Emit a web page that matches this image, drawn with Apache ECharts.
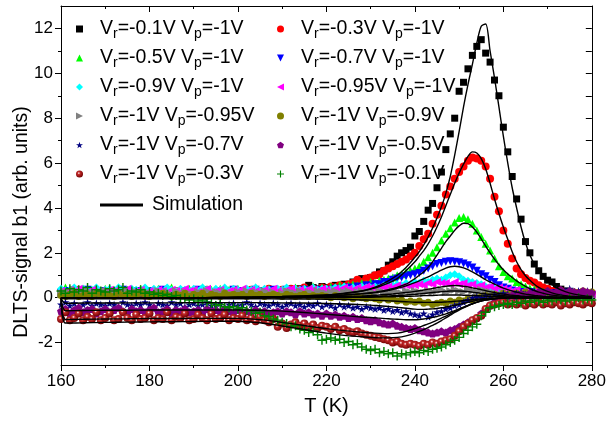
<!DOCTYPE html>
<html>
<head>
<meta charset="utf-8">
<script src="https://cdn.jsdelivr.net/npm/echarts@6/dist/echarts.min.js"></script>
<style>
html,body{margin:0;padding:0;background:#fff;}
#chart{width:609px;height:421px;}
</style>
</head>
<body>
<div id="chart"></div>
<script>
// measured temperatures (K)
var temps = [
	160,161,162,163,164,165,166,167,168,169,
	170,171,172,173,174,175,176,177,178,179,
	180,181,182,183,184,185,186,187,188,189,
	190,191,192,193,194,195,196,197,198,199,
	200,201,202,203,204,205,206,207,208,209,
	210,211,212,213,214,215,216,217,218,219,
	220,221,222,223,224,225,226,227,228,229,
	230,231,232,233,234,235,236,237,238,239,
	240,241,242,243,244,245,246,247,248,249,
	250,251,252,253,254,255,256,257,258,259,
	260,261,262,263,264,265,266,267,268,269,
	270,271,272,273,274,275,276,277,278,279,
	280];

var names = ['Vr=-0.1V Vp=-1V','Vr=-0.3V Vp=-1V','Vr=-0.5V Vp=-1V','Vr=-0.7V Vp=-1V',
	'Vr=-0.9V Vp=-1V','Vr=-0.95V Vp=-1V','Vr=-1V Vp=-0.95V','Vr=-1V Vp=-0.9V',
	'Vr=-1V Vp=-0.7V','Vr=-1V Vp=-0.5V','Vr=-1V Vp=-0.3V','Vr=-1V Vp=-0.1V'];

// DLTS signal b1, one value per temperature
var vr01 = [
	0.2,0.15,0.25,0.1,0.2,0.3,0.15,0.2,0.1,0.25,
	0.2,0.3,0.15,0.2,0.25,0.1,0.2,0.3,0.2,0.15,
	0.25,0.2,0.1,0.3,0.2,0.15,0.25,0.2,0.3,0.15,
	0.2,0.25,0.15,0.3,0.2,0.1,0.25,0.2,0.3,0.2,
	0.25,0.15,0.2,0.3,0.2,0.25,0.3,0.2,0.35,0.25,
	0.3,0.2,0.35,0.3,0.4,0.35,0.55,0.45,0.4,0.5,
	0.45,0.4,0.55,0.5,0.6,0.55,0.7,0.6,0.85,0.8,
	0.9,1.0,1.15,1.2,1.45,1.6,1.85,2.0,2.1,2.25,
	2.75,2.95,3.4,3.9,4.2,4.9,5.6,6.6,7.3,8.0,
	9.2,9.6,10.2,10.8,11.2,11.5,10.9,10.5,9.7,9.0,
	7.6,6.5,5.4,4.4,3.5,2.5,2.0,1.5,1.2,0.95,
	0.78,0.7,0.5,0.38,0.3,0.25,0.2,0.2,0.15,0.15,
	0.1];
var vr03 = [
	0.25,0.3,0.15,0.2,0.35,0.2,0.1,0.25,0.3,0.2,
	0.15,0.3,0.25,0.2,0.35,0.15,0.2,0.3,0.25,0.1,
	0.3,0.2,0.25,0.15,0.35,0.2,0.3,0.25,0.2,0.15,
	0.25,0.3,0.2,0.35,0.15,0.25,0.3,0.2,0.25,0.35,
	0.2,0.3,0.25,0.35,0.2,0.3,0.25,0.4,0.3,0.25,
	0.35,0.3,0.4,0.25,0.35,0.45,0.3,0.4,0.35,0.45,
	0.4,0.5,0.45,0.55,0.5,0.6,0.65,0.8,0.7,0.85,
	0.9,1.0,1.05,1.2,1.3,1.4,1.5,1.6,1.7,1.85,
	2.0,2.3,2.6,2.85,3.3,3.7,4.1,4.6,4.95,5.3,
	5.6,5.85,6.1,6.25,6.2,6.1,5.85,5.3,4.5,3.85,
	3.0,2.4,1.75,1.3,1.05,0.88,0.75,0.68,0.55,0.45,
	0.4,0.3,0.25,0.3,0.2,0.25,0.15,0.2,0.25,0.15,
	0.2];
var vr05 = [
	0.3,0.45,0.2,0.35,0.25,0.4,0.15,0.3,0.35,0.2,
	0.4,0.25,0.3,0.45,0.2,0.35,0.3,0.25,0.4,0.3,
	0.2,0.35,0.4,0.25,0.3,0.45,0.2,0.35,0.3,0.4,
	0.25,0.3,0.45,0.2,0.35,0.3,0.4,0.25,0.35,0.3,
	0.4,0.3,0.35,0.25,0.45,0.3,0.35,0.4,0.3,0.35,
	0.3,0.4,0.35,0.45,0.3,0.4,0.35,0.5,0.4,0.45,
	0.4,0.5,0.45,0.55,0.5,0.55,0.6,0.55,0.65,0.6,
	0.7,0.65,0.75,0.8,0.85,0.9,1.0,1.05,1.15,1.2,
	1.3,1.4,1.6,1.8,2.0,2.25,2.55,2.85,3.1,3.35,
	3.55,3.6,3.5,3.3,3.0,2.7,2.4,2.1,1.75,1.4,
	1.15,0.95,0.85,0.7,0.6,0.5,0.42,0.38,0.3,0.25,
	0.3,0.2,0.25,0.3,0.2,0.15,0.25,0.2,0.15,0.2,
	0.2];
var vr07 = [
	0.2,0.3,0.25,0.15,0.3,0.2,0.35,0.25,0.2,0.3,
	0.25,0.15,0.3,0.2,0.35,0.25,0.2,0.3,0.15,0.25,
	0.3,0.2,0.25,0.35,0.15,0.3,0.2,0.25,0.3,0.2,
	0.25,0.35,0.2,0.3,0.25,0.15,0.3,0.25,0.2,0.35,
	0.3,0.25,0.2,0.3,0.35,0.25,0.3,0.2,0.35,0.3,
	0.25,0.35,0.3,0.25,0.3,0.35,0.25,0.3,0.35,0.3,
	0.35,0.3,0.4,0.35,0.4,0.45,0.4,0.5,0.45,0.55,
	0.5,0.6,0.6,0.7,0.7,0.8,0.85,0.9,0.95,1.0,
	1.05,1.1,1.2,1.3,1.4,1.5,1.55,1.6,1.62,1.6,
	1.58,1.52,1.45,1.35,1.2,1.05,0.95,0.8,0.7,0.55,
	0.45,0.4,0.32,0.28,0.25,0.2,0.25,0.2,0.15,0.2,
	0.15,0.2,0.1,0.15,0.2,0.1,0.15,0.1,0.2,0.15,
	0.1];
var vr09 = [
	0.4,0.3,0.35,0.45,0.25,0.4,0.3,0.35,0.45,0.3,
	0.35,0.4,0.25,0.45,0.35,0.3,0.4,0.35,0.3,0.45,
	0.3,0.4,0.35,0.25,0.45,0.35,0.3,0.4,0.35,0.3,
	0.4,0.3,0.45,0.35,0.3,0.4,0.35,0.45,0.3,0.4,
	0.35,0.3,0.4,0.35,0.45,0.3,0.4,0.35,0.3,0.4,
	0.35,0.45,0.3,0.4,0.35,0.4,0.3,0.45,0.35,0.4,
	0.4,0.35,0.45,0.4,0.5,0.35,0.45,0.4,0.5,0.45,
	0.45,0.5,0.45,0.55,0.5,0.55,0.6,0.55,0.65,0.6,
	0.7,0.65,0.75,0.7,0.8,0.85,0.8,0.9,1.0,1.05,
	0.95,0.8,0.75,0.7,0.65,0.6,0.5,0.45,0.4,0.35,
	0.35,0.3,0.25,0.3,0.2,0.25,0.15,0.2,0.1,0.15,
	0.05,0.1,-0.1,0.05,0.1,0,0.1,0.05,0.1,0,
	0.1];
var vr095 = [
	0.3,0.2,0.35,0.25,0.4,0.3,0.2,0.35,0.25,0.3,
	0.25,0.35,0.3,0.2,0.3,0.4,0.25,0.3,0.35,0.2,
	0.3,0.25,0.35,0.3,0.2,0.35,0.3,0.25,0.4,0.3,
	0.35,0.25,0.3,0.4,0.25,0.3,0.35,0.2,0.3,0.35,
	0.3,0.4,0.25,0.35,0.3,0.25,0.35,0.3,0.4,0.3,
	0.25,0.35,0.4,0.3,0.35,0.3,0.4,0.35,0.3,0.4,
	0.35,0.3,0.4,0.35,0.45,0.4,0.35,0.45,0.4,0.5,
	0.45,0.4,0.5,0.45,0.5,0.45,0.55,0.5,0.55,0.5,
	0.55,0.6,0.55,0.65,0.6,0.7,0.65,0.65,0.6,0.7,
	0.6,0.65,0.55,0.6,0.5,0.55,0.45,0.5,0.4,0.45,
	0.4,0.35,0.3,0.35,0.25,0.3,0.2,0.25,0.2,0.15,
	0.2,0.15,0.2,0.1,0.15,0.2,0.1,0.15,0.2,0.1,
	0.15];
var vp095 = [
	0.15,0.25,0.2,0.35,0.15,0.25,0.3,0.2,0.15,0.25,
	0.3,0.2,0.15,0.25,0.2,0.3,0.15,0.25,0.2,0.3,
	0.2,0.15,0.3,0.2,0.25,0.15,0.3,0.2,0.25,0.2,
	0.15,0.25,0.2,0.3,0.15,0.25,0.2,0.3,0.2,0.15,
	0.25,0.2,0.3,0.15,0.25,0.2,0.3,0.2,0.25,0.15,
	0.2,0.3,0.25,0.2,0.3,0.15,0.25,0.2,0.3,0.25,
	0.2,0.25,0.3,0.2,0.25,0.3,0.2,0.25,0.3,0.2,
	0.25,0.2,0.3,0.25,0.2,0.3,0.25,0.2,0.3,0.25,
	0.3,0.25,0.2,0.3,0.25,0.3,0.35,0.25,0.3,0.35,
	0.3,0.25,0.35,0.3,0.25,0.35,0.3,0.25,0.2,0.15,
	0.2,0.1,0.15,0.05,0.1,0,0.1,0.05,-0.05,0.05,
	0.1,0,0.05,0.1,-0.05,0.05,0.1,0,0.05,0.1,
	0.05];
var vp09 = [
	0.1,0.05,0.15,0.2,0.05,0.1,0.15,0.05,0.2,0.1,
	0.15,0.1,0.05,0.2,0.1,0.15,0.05,0.1,0.2,0.15,
	0.05,0.15,0.1,0.2,0.1,0.05,0.15,0.1,0.2,0.05,
	0.15,0.1,0.2,0.05,0.15,0.1,0.05,0.2,0.1,0.15,
	0.1,0.15,0.05,0.2,0.1,0.15,0.05,0.1,0.15,0.1,
	0.05,0.15,0.1,0.05,0.1,0.15,0.05,0.1,0.05,0.1,
	0.05,0,0.1,0.05,0,0.05,-0.05,0.05,0,-0.05,
	0,-0.05,-0.1,0,-0.1,-0.05,-0.15,-0.1,-0.2,-0.15,
	-0.2,-0.15,-0.25,-0.2,-0.3,-0.25,-0.2,-0.25,-0.15,-0.2,
	-0.1,-0.15,-0.05,-0.1,0,0.05,0.1,0.05,0.15,0.1,
	0.2,0.15,0.1,0.2,0.15,0.25,0.1,0.2,0.15,0.2,
	0.25,0.15,0.2,0.3,0.15,0.2,0.25,0.15,0.3,0.2,
	0.25];
var vp07 = [
	-0.3,-0.2,-0.35,-0.25,-0.4,-0.3,-0.2,-0.35,-0.25,-0.3,
	-0.35,-0.25,-0.3,-0.4,-0.2,-0.3,-0.35,-0.25,-0.3,-0.2,
	-0.3,-0.4,-0.25,-0.3,-0.35,-0.2,-0.3,-0.25,-0.4,-0.3,
	-0.25,-0.35,-0.3,-0.2,-0.35,-0.3,-0.25,-0.4,-0.3,-0.25,
	-0.35,-0.3,-0.2,-0.3,-0.4,-0.25,-0.3,-0.35,-0.25,-0.3,
	-0.4,-0.3,-0.25,-0.35,-0.3,-0.4,-0.3,-0.35,-0.25,-0.4,
	-0.3,-0.35,-0.45,-0.3,-0.4,-0.35,-0.45,-0.4,-0.5,-0.4,
	-0.45,-0.5,-0.45,-0.55,-0.5,-0.6,-0.55,-0.65,-0.6,-0.7,
	-0.75,-0.8,-0.7,-0.85,-0.75,-0.65,-0.6,-0.5,-0.45,-0.35,
	-0.3,-0.2,-0.1,0,0.05,0,0.1,0.05,0.15,0.1,
	0.2,0.15,0.1,0.2,0.25,0.15,0.2,0.3,0.2,0.25,
	0.3,0.2,0.35,0.25,0.3,0.4,0.25,0.3,0.2,0.3,
	0.25];
var vp05 = [
	-0.6,-0.5,-0.7,-0.55,-0.45,-0.65,-0.55,-0.5,-0.7,-0.6,
	-0.5,-0.65,-0.55,-0.45,-0.6,-0.7,-0.5,-0.6,-0.55,-0.65,
	-0.55,-0.45,-0.65,-0.6,-0.5,-0.7,-0.55,-0.6,-0.5,-0.65,
	-0.6,-0.55,-0.7,-0.5,-0.6,-0.55,-0.65,-0.5,-0.6,-0.7,
	-0.55,-0.65,-0.6,-0.7,-0.55,-0.65,-0.6,-0.7,-0.65,-0.6,
	-0.7,-0.6,-0.65,-0.75,-0.6,-0.7,-0.65,-0.75,-0.7,-0.8,
	-0.7,-0.8,-0.75,-0.85,-0.8,-0.9,-0.85,-0.95,-0.9,-1.0,
	-1.05,-1.0,-1.1,-1.15,-1.2,-1.15,-1.25,-1.3,-1.35,-1.4,
	-1.35,-1.45,-1.5,-1.55,-1.6,-1.55,-1.5,-1.55,-1.45,-1.4,
	-1.3,-1.2,-1.1,-1.0,-0.9,-0.7,-0.5,-0.35,-0.2,-0.1,
	0,0.05,0.1,0.05,0.15,0.1,0.2,0.15,0.25,0.2,
	0.3,0.2,0.25,0.35,0.2,0.3,0.25,0.2,0.3,0.25,
	0.2];
var vp03 = [
	-0.95,-0.65,-1.0,-0.9,-0.7,-1.0,-0.85,-0.95,-0.65,-1.0,
	-0.9,-0.7,-1.0,-0.95,-0.65,-0.9,-1.0,-0.75,-0.95,-0.9,
	-0.7,-1.0,-0.9,-0.95,-0.65,-1.0,-0.85,-0.9,-0.7,-1.0,
	-0.95,-0.75,-0.9,-1.0,-0.7,-0.95,-0.9,-0.75,-1.0,-0.9,
	-0.95,-0.8,-1.0,-0.9,-1.05,-0.85,-1.0,-1.1,-0.95,-1.3,
	-1.15,-1.35,-1.2,-1.1,-1.25,-1.15,-1.3,-1.2,-1.35,-1.25,
	-1.3,-1.4,-1.3,-1.45,-1.4,-1.5,-1.55,-1.5,-1.6,-1.65,
	-1.7,-1.75,-1.8,-1.85,-1.9,-2.0,-1.95,-2.05,-2.1,-2.05,
	-2.1,-2.15,-2.05,-2.1,-2.0,-2.05,-1.95,-1.9,-1.85,-1.7,
	-1.5,-1.3,-1.15,-1.0,-0.9,-0.8,-0.5,-0.35,-0.3,-0.25,
	-0.2,-0.3,-0.25,-0.3,-0.2,-0.35,-0.25,-0.3,-0.2,-0.3,
	-0.25,-0.3,-0.2,-0.35,-0.25,-0.3,-0.2,-0.25,-0.3,-0.2,
	-0.25];
var vp01 = [
	0.3,0.2,0.4,0.25,0.35,0.3,0.45,0.2,0.35,0.3,
	0.25,0.4,0.3,0.35,0.45,0.2,0.3,0.25,0.35,0.2,
	0.25,0.15,0.2,0.1,0.15,0.05,0.1,-0.05,0,-0.1,
	-0.05,-0.15,-0.1,-0.2,-0.25,-0.35,-0.3,-0.4,-0.45,-0.4,
	-0.5,-0.45,-0.55,-0.6,-0.7,-0.65,-0.8,-0.85,-0.95,-1.0,
	-1.1,-1.15,-1.3,-1.25,-1.4,-1.45,-1.55,-1.5,-1.65,-1.9,
	-1.85,-1.8,-1.9,-1.85,-2.0,-1.95,-2.1,-2.05,-2.2,-2.3,
	-2.35,-2.3,-2.45,-2.4,-2.5,-2.45,-2.6,-2.5,-2.55,-2.45,
	-2.4,-2.45,-2.35,-2.4,-2.3,-2.25,-2.2,-2.1,-2.0,-1.9,
	-1.77,-1.6,-1.45,-1.3,-1.18,-0.8,-0.65,-0.45,-0.4,-0.35,
	-0.3,-0.25,-0.3,-0.2,-0.25,-0.15,-0.2,-0.1,-0.15,-0.2,
	-0.1,-0.15,-0.05,-0.1,-0.15,-0.05,-0.1,0,-0.1,-0.05,
	-0.1];
var measured = [vr01,vr03,vr05,vr07,vr09,vr095,vp095,vp09,vp07,vp05,vp03,vp01];

// simulation curves, sampled at simT
var simT = [160,161,165,170,175,180,185,190,195,200,
	205,210,215,220,224,228,230,232,234,236,
	238,240,241,242,243,244,245,246,247,248,
	249,250,251,252,253,254,255,256,257,258,
	259,260,261,262,263,264,265,266,267,268,
	269,270,272,274,276,278,280];
var simVr01 = [0,0,0,0,0,0,0,0,0.01,0.02,
	0.03,0.05,0.08,0.12,0.18,0.3,0.4,0.55,0.75,1.0,
	1.35,1.8,2.05,2.35,2.7,3.1,3.55,4.05,4.65,5.4,
	6.35,7.4,8.5,9.5,10.4,11.35,12.1,12.2,11.0,9.8,
	8.5,7.2,6.0,4.9,4.0,3.15,2.45,1.9,1.5,1.2,
	0.95,0.75,0.45,0.27,0.16,0.09,0.05];
var simVr03 = [0,0,0,0,0,0,0,0,0.01,0.02,
	0.03,0.05,0.08,0.12,0.2,0.3,0.38,0.5,0.65,0.85,
	1.2,1.6,1.85,2.1,2.4,2.75,3.15,3.6,4.1,4.6,
	5.1,5.55,5.95,6.3,6.5,6.45,6.2,5.75,5.1,4.4,
	3.75,3.15,2.6,2.05,1.6,1.25,0.98,0.78,0.6,0.46,
	0.36,0.28,0.16,0.09,0.05,0.03,0.02];
var simVr05 = [0,0,0,0,0,0,0,0,0.01,0.01,
	0.02,0.03,0.05,0.08,0.12,0.18,0.22,0.28,0.36,0.46,
	0.6,0.85,1.0,1.15,1.35,1.6,1.9,2.2,2.5,2.75,
	3.0,3.2,3.32,3.3,3.15,2.92,2.62,2.3,2.0,1.72,
	1.47,1.25,1.06,0.9,0.75,0.62,0.5,0.4,0.32,0.25,
	0.2,0.15,0.09,0.05,0.03,0.02,0.01];
var simVr07 = [0,0,0,0,0,0,0,0,0,0.01,
	0.02,0.03,0.05,0.08,0.12,0.17,0.2,0.25,0.32,0.42,
	0.53,0.67,0.75,0.84,0.93,1.03,1.13,1.23,1.32,1.38,
	1.4,1.38,1.33,1.25,1.15,1.04,0.92,0.8,0.7,0.6,
	0.51,0.43,0.36,0.3,0.25,0.2,0.16,0.13,0.1,0.08,
	0.06,0.05,0.03,0.02,0.01,0.01,0];
var simVr09 = [0,0,0,0,0,0,0,0,0,0,
	0.01,0.02,0.03,0.04,0.06,0.08,0.1,0.12,0.15,0.19,
	0.23,0.28,0.31,0.34,0.38,0.41,0.45,0.48,0.51,0.53,
	0.54,0.53,0.51,0.48,0.44,0.4,0.36,0.31,0.27,0.23,
	0.19,0.16,0.13,0.11,0.09,0.07,0.06,0.05,0.04,0.03,
	0.02,0.02,0.01,0.01,0,0,0];
var simVr095 = [0,0,0,0,0,0,0,0,0,0,
	0,0.01,0.01,0.02,0.03,0.04,0.05,0.06,0.08,0.1,
	0.12,0.15,0.17,0.19,0.21,0.23,0.25,0.27,0.28,0.3,
	0.3,0.3,0.29,0.27,0.25,0.22,0.2,0.17,0.15,0.13,
	0.11,0.09,0.07,0.06,0.05,0.04,0.03,0.03,0.02,0.02,
	0.01,0.01,0.01,0,0,0,0];
var simVp095 = [0,0,0,0,0,0,0,0,0,0,
	0,0,0.01,0.01,0.01,0.02,0.02,0.03,0.04,0.05,
	0.06,0.07,0.08,0.09,0.1,0.1,0.11,0.12,0.12,0.12,
	0.12,0.12,0.11,0.11,0.1,0.09,0.08,0.07,0.06,0.05,
	0.04,0.04,0.03,0.03,0.02,0.02,0.01,0.01,0.01,0,
	0,0,0,0,0,0,0];
var simVp09 = [0,-0.05,-0.05,-0.05,-0.05,-0.05,-0.05,-0.05,-0.05,-0.05,
	-0.05,-0.06,-0.06,-0.07,-0.08,-0.1,-0.11,-0.12,-0.14,-0.16,
	-0.18,-0.2,-0.2,-0.21,-0.21,-0.21,-0.2,-0.2,-0.19,-0.18,
	-0.16,-0.15,-0.13,-0.11,-0.09,-0.07,-0.06,-0.04,-0.03,-0.02,
	-0.02,-0.01,-0.01,0,0,0,0,0,0,0,
	0,0,0,0,0,0,0];
var simVp07 = [0,-0.25,-0.24,-0.24,-0.23,-0.23,-0.23,-0.22,-0.22,-0.22,
	-0.22,-0.23,-0.24,-0.26,-0.28,-0.31,-0.33,-0.36,-0.39,-0.43,
	-0.47,-0.51,-0.52,-0.52,-0.51,-0.5,-0.48,-0.45,-0.42,-0.38,
	-0.34,-0.3,-0.25,-0.21,-0.16,-0.12,-0.09,-0.06,-0.04,-0.03,
	-0.02,-0.01,-0.01,0,0,0,0,0,0,0,
	0,0,0,0,0,0,0];
var simVp05 = [0,-0.58,-0.57,-0.56,-0.56,-0.55,-0.55,-0.55,-0.55,-0.55,
	-0.56,-0.6,-0.66,-0.74,-0.8,-0.86,-0.88,-0.91,-0.94,-0.96,
	-0.98,-0.98,-0.97,-0.95,-0.92,-0.88,-0.84,-0.78,-0.72,-0.65,
	-0.58,-0.5,-0.42,-0.34,-0.27,-0.2,-0.15,-0.1,-0.07,-0.05,
	-0.03,-0.02,-0.01,-0.01,0,0,0,0,0,0,
	0,0,0,0,0,0,0];
var simVp03 = [0,-0.97,-0.96,-0.95,-0.94,-0.93,-0.93,-0.92,-0.92,-0.92,
	-0.98,-1.1,-1.24,-1.38,-1.47,-1.54,-1.57,-1.59,-1.6,-1.58,
	-1.5,-1.38,-1.31,-1.24,-1.17,-1.09,-1.0,-0.91,-0.82,-0.72,
	-0.62,-0.52,-0.43,-0.35,-0.27,-0.2,-0.14,-0.1,-0.07,-0.05,
	-0.03,-0.02,-0.01,-0.01,0,0,0,0,0,0,
	0,0,0,0,0,0,0];
var simVp01 = [0,-1.13,-1.12,-1.1,-1.09,-1.08,-1.07,-1.06,-1.05,-1.05,
	-1.12,-1.26,-1.42,-1.58,-1.68,-1.74,-1.77,-1.79,-1.79,-1.77,
	-1.7,-1.58,-1.5,-1.42,-1.33,-1.23,-1.13,-1.02,-0.9,-0.78,
	-0.66,-0.55,-0.45,-0.36,-0.28,-0.21,-0.15,-0.11,-0.08,-0.05,
	-0.03,-0.02,-0.01,-0.01,0,0,0,0,0,0,
	0,0,0,0,0,0,0];
var simulated = [simVr01,simVr03,simVr05,simVr07,simVr09,simVr095,simVp095,simVp09,simVp07,simVp05,simVp03,simVp01];

// marker looks, same order as names; icon is the legend glyph
var STAR = 'path://M50,0 L61,35 L98,35 L68,57 L79,91 L50,70 L21,91 L32,57 L2,35 L39,35 Z';
var PENT = 'path://M50,0 L98,35 L79,91 L21,91 L2,35 Z';
var PLUS = 'path://M42,0H58V42H100V58H58V100H42V58H0V42H42Z';
var TRI_DOWN = 'path://M0,0L100,0L50,100Z';
var TRI_LEFT = 'path://M100,0L100,100L0,50Z';
var TRI_RIGHT = 'path://M0,0L0,100L100,50Z';
var SPHERE = {type:'radial',x:0.4,y:0.38,r:0.65,colorStops:[
	{offset:0,color:'#ffffff'},{offset:0.28,color:'#c42a2a'},{offset:1,color:'#6e0000'}]};
var markers = [
	{symbol:'rect',size:7,rotate:0,icon:'rect',color:'#000000'},
	{symbol:'circle',size:8,rotate:0,icon:'circle',color:'#ff0000'},
	{symbol:'triangle',size:8,rotate:0,icon:'triangle',color:'#00ff00'},
	{symbol:'triangle',size:8,rotate:180,icon:TRI_DOWN,color:'#0000ff'},
	{symbol:'diamond',size:8,rotate:0,icon:'diamond',color:'#00ffff'},
	{symbol:'triangle',size:8,rotate:90,icon:TRI_LEFT,color:'#ff00ff'},
	{symbol:'triangle',size:8,rotate:-90,icon:TRI_RIGHT,color:'#808080'},
	{symbol:'circle',size:7,rotate:0,icon:'circle',color:'#808000'},
	{symbol:STAR,size:8,rotate:0,icon:STAR,color:'#000080'},
	{symbol:PENT,size:8,rotate:0,icon:PENT,color:'#800080'},
	{symbol:'circle',size:8,rotate:0,icon:'circle',color:SPHERE},
	{symbol:PLUS,size:9,rotate:0,icon:PLUS,color:'#008000'}
];

var FONT = 'Liberation Sans';

function pairs(xs,ys){
	var out = [];
	for(var i=0;i<ys.length;i++) out.push([xs[i],ys[i]]);
	return out;
}
function subs(name){
	return name.replace(/V([rp])/g,'V{s|$1}');
}
function legendItems(idx){
	var out = [];
	for(var k=0;k<idx.length;k++) out.push({name:names[idx[k]],icon:markers[idx[k]].icon});
	return out;
}

var series = [];
for(var i=0;i<names.length;i++){
	var m = markers[i];
	series.push({
		name:names[i],
		type:'scatter',
		symbol:m.symbol,
		symbolSize:m.size,
		symbolRotate:m.rotate,
		itemStyle:{color:m.color,opacity:1},
		data:pairs(temps,measured[i]),
		z:2
	});
}
for(var j=0;j<simulated.length;j++){
	series.push({
		name:'Simulation',
		type:'line',
		symbol:'none',
		smooth:0.3,
		lineStyle:{color:'#000',width:1.4},
		itemStyle:{color:'#000'},
		data:pairs(simT,simulated[j]),
		z:5
	});
}

var legendText = {
	fontFamily:FONT,fontSize:19.5,color:'#000',lineHeight:20,padding:[0,0,0,12],
	rich:{s:{fontFamily:FONT,fontSize:14,color:'#000',lineHeight:14,padding:[10,0,0,0]}}
};

var myChart = echarts.init(document.getElementById('chart'));
var option = {
	animation:false,
	backgroundColor:'#fff',
	grid:{left:61,right:14,top:6,bottom:52},
	legend:[{
		orient:'vertical',left:71,top:12,itemWidth:7,itemHeight:7,itemGap:5,
		selectedMode:false,data:legendItems([0,2,4,6,8,10]),formatter:subs,textStyle:legendText
	},{
		orient:'vertical',left:272,top:12,itemWidth:7,itemHeight:7,itemGap:5,
		selectedMode:false,data:legendItems([1,3,5,7,9,11]),formatter:subs,textStyle:legendText
	},{
		orient:'vertical',left:95,top:190,itemWidth:43,itemHeight:3,symbolKeepAspect:false,
		selectedMode:false,data:[{name:'Simulation',icon:'rect'}],
		itemStyle:{color:'#000'},
		textStyle:{fontFamily:FONT,fontSize:19.5,color:'#000',padding:[0,0,0,4]}
	}],
	graphic:[{
		type:'text',x:22,y:222,rotation:Math.PI/2,
		style:{text:'DLTS-signal b1 (arb. units)',font:'19.5px "Liberation Sans"',fill:'#000',
			textAlign:'center',textVerticalAlign:'middle'}
	}],
	xAxis:[{
		type:'value',min:160,max:280,interval:20,position:'bottom',
		axisLine:{onZero:false,lineStyle:{color:'#000',width:1}},
		axisTick:{length:6,lineStyle:{color:'#000'}},
		minorTick:{show:true,splitNumber:2,length:3,lineStyle:{color:'#000'}},
		axisLabel:{fontFamily:FONT,fontSize:17,color:'#000',margin:8},
		splitLine:{show:false},
		name:'T (K)',nameLocation:'middle',nameGap:31,
		nameTextStyle:{fontFamily:FONT,fontSize:20,color:'#000'}
	},{
		type:'value',min:160,max:280,interval:20,position:'top',
		axisLine:{onZero:false,lineStyle:{color:'#000',width:1}},
		axisTick:{inside:true,length:6,lineStyle:{color:'#000'}},
		minorTick:{show:true,splitNumber:2,length:3,lineStyle:{color:'#000'}},
		axisLabel:{show:false},splitLine:{show:false}
	}],
	yAxis:[{
		type:'value',min:-3,max:13,interval:1,position:'left',
		axisLine:{onZero:false,lineStyle:{color:'#000',width:1}},
		axisTick:{length:6,lineStyle:{color:'#000'},customValues:[-2,0,2,4,6,8,10,12]},
		axisLabel:{fontFamily:FONT,fontSize:17,color:'#000',margin:8,customValues:[-2,0,2,4,6,8,10,12]},
		splitLine:{show:false}
	},{
		type:'value',min:-3,max:13,interval:1,position:'left',
		axisLine:{show:false},
		axisTick:{length:3,lineStyle:{color:'#000'},customValues:[-1,1,3,5,7,9,11]},
		axisLabel:{show:false},splitLine:{show:false}
	},{
		type:'value',min:-3,max:13,interval:1,position:'right',
		axisLine:{onZero:false,lineStyle:{color:'#000',width:1}},
		axisTick:{inside:true,length:6,lineStyle:{color:'#000'}},
		axisLabel:{show:false},splitLine:{show:false}
	}],
	series:series
};
myChart.setOption(option);
</script>
</body>
</html>
